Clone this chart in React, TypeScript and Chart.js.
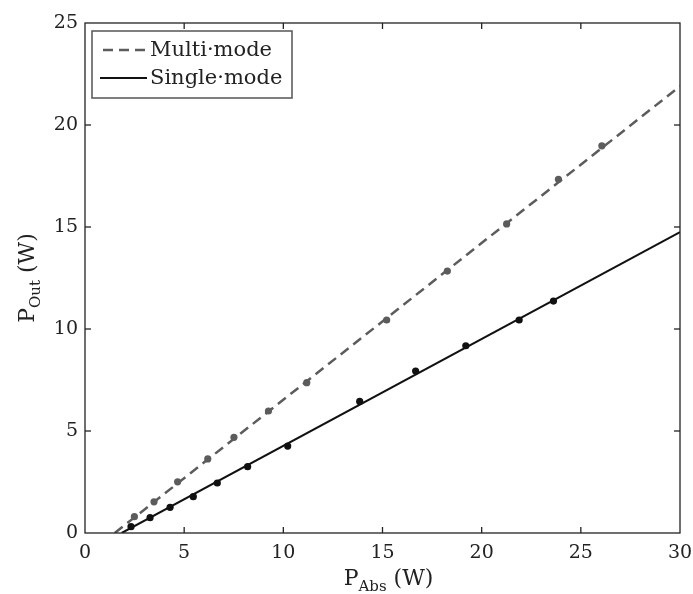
import React, { useEffect, useRef } from "react";
import { Chart, registerables } from "chart.js";

Chart.register(...registerables);

const multiX = [2.49, 3.48, 4.67, 6.19, 7.51, 9.25, 11.18, 15.21, 18.27, 21.26, 23.87, 26.06];
const multiY = [0.8, 1.53, 2.51, 3.63, 4.69, 5.98, 7.37, 10.44, 12.84, 15.15, 17.34, 18.98];
const singleX = [2.32, 3.28, 4.29, 5.46, 6.67, 8.2, 10.22, 13.85, 16.67, 19.2, 21.89, 23.62];
const singleY = [0.31, 0.75, 1.26, 1.78, 2.45, 3.25, 4.26, 6.45, 7.94, 9.18, 10.44, 11.37];

// Linear fit end points
const multiFitX = [1.5, 30];
const multiFitY = [0, 21.9];
const singleFitX = [1.85, 30];
const singleFitY = [0, 14.75];

const seriesNames = ["Multi·mode", "Single·mode"];
const xTitle = ["P", "Abs", " (W)"];
const yTitle = ["P", "Out", " (W)"];

const xMin = 0, xMax = 30, xStep = 5;
const yMin = 0, yMax = 25, yStep = 5;

const GRAY = "#5c5c5c";
const BLACK = "#111111";
const TEXT = "#222222";
const FONT = "DejaVu Serif";

const pts = (xs: number[], ys: number[]) => xs.map((x, i) => ({ x, y: ys[i] }));

function drawSubTitle(ctx: CanvasRenderingContext2D, parts: string[], cx: number, baseY: number) {
  const big = `22px ${FONT}`;
  const small = `15px ${FONT}`;
  ctx.font = big;
  const w0 = ctx.measureText(parts[0]).width;
  const w2 = ctx.measureText(parts[2]).width;
  ctx.font = small;
  const w1 = ctx.measureText(parts[1]).width;
  const total = w0 + w1 + w2;
  let x = cx - total / 2;
  ctx.textAlign = "left";
  ctx.textBaseline = "alphabetic";
  ctx.font = big;
  ctx.fillText(parts[0], x, baseY);
  x += w0;
  ctx.font = small;
  ctx.fillText(parts[1], x, baseY + 6);
  x += w1;
  ctx.font = big;
  ctx.fillText(parts[2], x, baseY);
}

const framePlugin = {
  id: "frame",
  afterDraw(chart: any) {
    const { ctx, chartArea: a, scales } = chart;
    ctx.save();
    ctx.strokeStyle = "#222";
    ctx.lineWidth = 1.3;
    ctx.setLineDash([]);
    ctx.strokeRect(a.left, a.top, a.right - a.left, a.bottom - a.top);
    const line = (x1: number, y1: number, x2: number, y2: number) => {
      ctx.beginPath();
      ctx.moveTo(x1, y1);
      ctx.lineTo(x2, y2);
      ctx.stroke();
    };
    const tl = 6;
    scales.x.ticks.forEach((t: any) => {
      const px = scales.x.getPixelForValue(t.value);
      if (px <= a.left + 1 || px >= a.right - 1) return;
      line(px, a.bottom, px, a.bottom - tl);
      line(px, a.top, px, a.top + tl);
    });
    scales.y.ticks.forEach((t: any) => {
      const py = scales.y.getPixelForValue(t.value);
      if (py <= a.top + 1 || py >= a.bottom - 1) return;
      line(a.left, py, a.left + tl, py);
      line(a.right, py, a.right - tl, py);
    });

    // Legend
    const lx = a.left + 7, ly = a.top + 8, lw = 200, lh = 67;
    ctx.fillStyle = "#fff";
    ctx.fillRect(lx, ly, lw, lh);
    ctx.strokeStyle = "#555";
    ctx.lineWidth = 1.5;
    ctx.strokeRect(lx, ly, lw, lh);
    const rows = [
      { name: seriesNames[0], color: GRAY, dash: [10, 6], width: 2.5, y: ly + 19, x1: lx + 11 },
      { name: seriesNames[1], color: BLACK, dash: [], width: 2, y: ly + 47, x1: lx + 8 },
    ];
    rows.forEach((r) => {
      ctx.strokeStyle = r.color;
      ctx.lineWidth = r.width;
      ctx.setLineDash(r.dash);
      line(r.x1, r.y, lx + 55, r.y);
      ctx.setLineDash([]);
      ctx.fillStyle = TEXT;
      ctx.font = `21px ${FONT}`;
      ctx.textAlign = "left";
      ctx.textBaseline = "middle";
      ctx.fillText(r.name, lx + 58, r.y + 1);
    });

    // Axis titles
    ctx.fillStyle = TEXT;
    drawSubTitle(ctx, xTitle, (a.left + a.right) / 2 + 6, 585);
    ctx.save();
    ctx.translate(34, (a.top + a.bottom) / 2);
    ctx.rotate(-Math.PI / 2);
    drawSubTitle(ctx, yTitle, 0, 0);
    ctx.restore();
    ctx.restore();
  },
};

export default function App() {
  const ref = useRef<HTMLCanvasElement | null>(null);
  useEffect(() => {
    if (!ref.current) return;
    const chart = new Chart(ref.current, {
      type: "scatter",
      data: {
        datasets: [
          {
            label: seriesNames[0] + " fit",
            data: pts(multiFitX, multiFitY),
            showLine: true,
            borderColor: GRAY,
            borderWidth: 2.5,
            borderDash: [10, 6],
            pointRadius: 0,
          },
          {
            label: seriesNames[1] + " fit",
            data: pts(singleFitX, singleFitY),
            showLine: true,
            borderColor: BLACK,
            borderWidth: 2,
            pointRadius: 0,
          },
          {
            label: seriesNames[0],
            data: pts(multiX, multiY),
            pointRadius: 3.6,
            pointBackgroundColor: GRAY,
            pointBorderWidth: 0,
          },
          {
            label: seriesNames[1],
            data: pts(singleX, singleY),
            pointRadius: 3.6,
            pointBackgroundColor: BLACK,
            pointBorderWidth: 0,
          },
        ],
      },
      options: {
        animation: false,
        responsive: false,
        layout: { padding: { left: 0, top: 23, right: 13, bottom: 0 } },
        plugins: { legend: { display: false }, tooltip: { enabled: false } },
        scales: {
          x: {
            type: "linear",
            min: xMin,
            max: xMax,
            ticks: { stepSize: xStep, color: TEXT, font: { family: FONT, size: 19 }, padding: 9, maxRotation: 0 },
            grid: { display: false, drawTicks: false },
            border: { display: false },
            afterFit: (s: any) => { s.height = 61; s.paddingLeft = 0; s.paddingRight = 0; },
          },
          y: {
            type: "linear",
            min: yMin,
            max: yMax,
            ticks: { stepSize: yStep, color: TEXT, font: { family: FONT, size: 19 }, padding: 7 },
            grid: { display: false, drawTicks: false },
            border: { display: false },
            afterFit: (s: any) => { s.width = 85; s.paddingTop = 0; s.paddingBottom = 0; },
          },
        },
      },
      plugins: [framePlugin],
    });
    return () => chart.destroy();
  }, []);
  return (
    <div style={{ position: "fixed", left: 0, top: 0, width: 693, height: 594, background: "#fff" }}>
      <canvas ref={ref} width={693} height={594} style={{ display: "block" }} />
    </div>
  );
}
